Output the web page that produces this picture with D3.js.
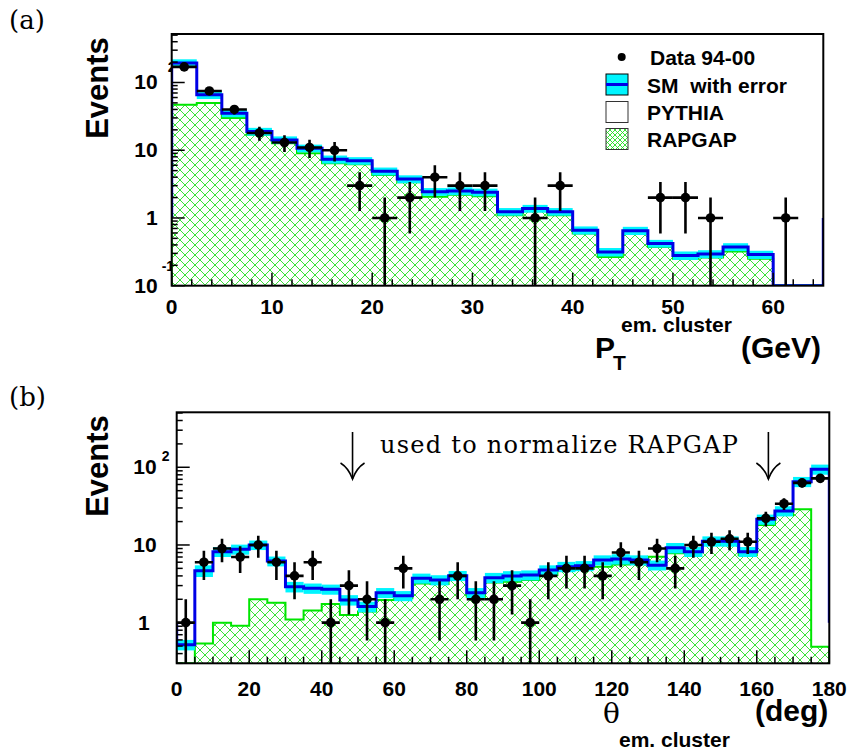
<!DOCTYPE html>
<html><head><meta charset="utf-8">
<script src="https://cdn.jsdelivr.net/npm/d3@7"></script>
<style>body{margin:0;background:#fff}svg{display:block}</style>
</head><body>
<svg id="c" width="851" height="751"></svg>
<script>
// ---------------- DATA: panel (a) P_T ----------------
const ptBinLow = d3.range(0, 65, 2.5);           // 26 bins, 2.5 GeV wide
const ptBinWidth = 2.5;
const ptSM      = [194, 66, 35.3, 18.9, 14.2, 10.7, 7.35, 7.0, 4.9, 3.76, 2.44, 2.5, 2.4, 1.24, 1.38, 1.24, 0.66, 0.315, 0.65, 0.42, 0.28, 0.294, 0.374, 0.288, 0, 0];
const ptSMErr   = [26, 9, 4.6, 2.5, 1.8, 1.4, 1.0, 0.9, 0.65, 0.5, 0.32, 0.33, 0.31, 0.16, 0.18, 0.16, 0.09, 0.045, 0.09, 0.055, 0.04, 0.04, 0.05, 0.04, 0, 0];
const ptRapgap  = [46.9, 49.7, 29.8, 16.9, 12.7, 9.0, 6.4, 6.2, 4.3, 3.36, 2.06, 2.2, 2.1, 1.1, 1.26, 1.1, 0.59, 0.266, 0.59, 0.374, 0.25, 0.26, 0.32, 0.25, 0, 0];
const ptData    = [170, 75, 40, 18, 13, 11, 10, 3, 1, 2, 4, 3, 3, null, 1, 3, null, null, null, 2, 2, 1, null, null, 1, null];
const ptDataErr = [13, 8.7, 6.3, 4.2, 3.6, 3.3, 3.2, 1.73, 1, 1.41, 2, 1.73, 1.73, null, 1, 1.73, null, null, null, 1.41, 1.41, 1, null, null, 1, null];
const ptXTickLabels = ["0", "10", "20", "30", "40", "50", "60"];
const ptYTickVals = [0.1, 1, 10, 100];
const ptYTickBase = ["10", "1", "10", "10"];
const ptYTickSup  = ["-1", "", "", "2"];

// ---------------- DATA: panel (b) theta ----------------
const thBinLow = d3.range(0, 180, 5);            // 36 bins, 5 deg wide
const thBinWidth = 5;
const thSM      = [0.52, 4.67, 8.2, 8.8, 10, 6.2, 2.9, 2.77, 2.69, 1.96, 1.61, 2.43, 2.22, 3.73, 3.55, 4.03, 2.43, 3.8, 4.0, 4.1, 4.77, 5.26, 5.4, 6.4, 6.6, 6.4, 5.5, 9.2, 8.2, 11.2, 11.2, 8.2, 21.4, 27.4, 65.3, 94.2];
const thSMErr   = [0.08, 0.8, 1.2, 1.3, 1.4, 0.9, 0.45, 0.42, 0.4, 0.3, 0.25, 0.36, 0.33, 0.55, 0.53, 0.6, 0.36, 0.57, 0.6, 0.6, 0.7, 0.8, 0.8, 0.95, 1.0, 0.95, 0.8, 1.4, 1.2, 1.7, 1.7, 1.2, 3.2, 4.1, 9.8, 14];
const thRapgap  = [0, 0.54, 1.0, 0.91, 2.0, 1.81, 1.1, 1.43, 1.74, 1.26, 1.39, 1.96, 2.06, 3.2, 3.15, 3.55, 2.16, 3.3, 3.37, 3.55, 4.1, 4.77, 4.9, 5.26, 5.6, 5.8, 7.07, 7.8, 8.2, 10, 10.2, 7.4, 18.1, 24.3, 28.8, 0.49];
const thData    = [1, 6, 9, 7, 10, 6, 4, 6, 1, 3, 2, 1, 5, null, 2, 4, 2, 2, 3, 1, 4, 5, 5, 4, 8, 6, 9, 5, 10, 11, 12, 11, 22, 34, 63, 72];
const thDataErr = [1, 2.45, 3, 2.65, 3.16, 2.45, 2, 2.45, 1, 1.73, 1.41, 1, 2.24, null, 1.41, 2, 1.41, 1.41, 1.73, 1, 2, 2.24, 2.24, 2, 2.83, 2.45, 3, 2.24, 3.16, 3.32, 3.46, 3.32, 4.69, 5.83, 7.94, 8.49];
const thXTickLabels = ["0", "20", "40", "60", "80", "100", "120", "140", "160", "180"];
const thYTickVals = [1, 10, 100];
const thYTickBase = ["1", "10", "10"];
const thYTickSup  = ["", "", "2"];
const normArrowsDeg = [48.5, 163.2];
const normText = "used to normalize RAPGAP";

const legendLabels = ["Data 94-00", "SM  with error", "PYTHIA", "RAPGAP"];

// ---------------- STYLE ----------------
const SANS = "'Liberation Sans', Arial, Helvetica, sans-serif";
const SERIF = "'DejaVu Serif', 'Liberation Serif', serif";
const BLUE = "#0000e6", CYAN = "#00f5ff", GREEN = "#00e600";

const svg = d3.select("#c");
const defs = svg.append("defs");
function hatch(id, s, sw) {
  const p = defs.append("pattern").attr("id", id).attr("patternUnits", "userSpaceOnUse")
    .attr("width", s).attr("height", s);
  p.append("rect").attr("width", s).attr("height", s).attr("fill", "#fff");
  p.append("path").attr("d", `M0,0L${s},${s}M${s},0L0,${s}M${-1},${s-1}L1,${s+1}M${s-1},-1L${s+1},1`)
    .attr("stroke", "#22e022").attr("stroke-width", sw).attr("fill", "none");
}
hatch("hatch", 10, 0.9);
hatch("hatchSmall", 5, 0.9);

function stepPoints(low, w, vals, base) {
  const pts = [[low[0], base]];
  vals.forEach((v, i) => { pts.push([low[i], v]); pts.push([low[i] + w, v]); });
  pts.push([low[low.length - 1] + w, base]);
  return pts;
}

function panel(o) {
  const g = svg.append("g");
  const x = d3.scaleLinear().domain(o.xDomain).range([o.x0, o.x1]);
  const y = d3.scaleLog().domain(o.yDomain).range([o.y1, o.y0]);
  const ymin = o.yDomain[0];
  const yc = v => (v == null || v <= ymin) ? o.y1 : y(v);
  const clipId = "clip" + o.id;
  defs.append("clipPath").attr("id", clipId).append("rect")
    .attr("x", o.x0).attr("y", o.y0).attr("width", o.x1 - o.x0).attr("height", o.y1 - o.y0);
  const line = d3.line().x(d => x(d[0])).y(d => yc(d[1]));

  // y labels (drawn first so the plot area covers the overflow)
  o.yTickVals.forEach((v, i) => {
    g.append("text").attr("x", o.x0 - (o.yLabelOff[o.yTickBase[i]] || o.yLabelOff.def))
      .attr("y", y(v) + 7).attr("text-anchor", "end")
      .attr("font-family", SANS).attr("font-weight", "bold").attr("font-size", 21)
      .text(o.yTickBase[i]);
    if (o.yTickSup[i]) {
      const s = o.sup[o.yTickSup[i]];
      g.append("text").attr("x", o.x0 + s.dx).attr("y", y(v) + s.dy)
        .attr("font-family", SANS).attr("font-weight", "bold").attr("font-size", 14)
        .text(o.yTickSup[i]);
    }
  });
  g.append("rect").attr("x", o.x0).attr("y", o.y0).attr("width", o.x1 - o.x0).attr("height", o.y1 - o.y0)
    .attr("fill", "#fff");
  const pg = g.append("g").attr("clip-path", `url(#${clipId})`);

  // RAPGAP hatched
  const rp = stepPoints(o.low, o.w, o.rapgap, ymin);
  pg.append("path").attr("d", line(rp) + "Z").attr("fill", "url(#hatch)").attr("stroke", "none");
  pg.append("path").attr("d", line(rp)).attr("fill", "none").attr("stroke", GREEN).attr("stroke-width", 2);

  // SM error band
  pg.selectAll(".band").data(o.sm).enter().append("rect")
    .attr("x", (d, i) => x(o.low[i])).attr("width", (d, i) => x(o.low[i] + o.w) - x(o.low[i]))
    .attr("y", (d, i) => d > 0 ? yc(d + o.smErr[i]) : o.y1 - 1.5)
    .attr("height", (d, i) => d > 0 ? yc(d - o.smErr[i]) - yc(d + o.smErr[i]) : 1.5)
    .attr("fill", CYAN);
  // SM line
  const sp = stepPoints(o.low, o.w, o.sm, 1);
  pg.append("path").attr("d", line(sp)).attr("fill", "none").attr("stroke", BLUE).attr("stroke-width", 3);

  // data
  const dg = pg.append("g").attr("stroke", "#000").attr("stroke-width", 2.6);
  o.data.forEach((n, i) => {
    if (n == null) return;
    const e = o.dataErr[i];
    const cx = x(o.low[i] + o.w / 2);
    dg.append("line").attr("x1", cx).attr("x2", cx).attr("y1", yc(n - e)).attr("y2", yc(n + e));
    dg.append("line").attr("x1", x(o.low[i])).attr("x2", x(o.low[i] + o.w)).attr("y1", y(n)).attr("y2", y(n));
    dg.append("circle").attr("cx", cx).attr("cy", y(n)).attr("r", 4.8).attr("fill", "#000").attr("stroke", "none");
  });

  // ticks
  const tk = g.append("g").attr("stroke", "#000").attr("stroke-width", 1.5);
  d3.range(o.xDomain[0], o.xDomain[1] + 1e-9, o.xMinor).forEach(v => {
    const major = Math.abs(v / o.xMajor - Math.round(v / o.xMajor)) < 1e-6;
    tk.append("line").attr("x1", x(v)).attr("x2", x(v)).attr("y1", o.y1).attr("y2", o.y1 - (major ? 13 : 6.5));
  });
  y.ticks().forEach(v => {
    const lg = Math.log10(v);
    const major = Math.abs(lg - Math.round(lg)) < 1e-6;
    tk.append("line").attr("x1", o.x0).attr("x2", o.x0 + (major ? 13 : 6)).attr("y1", y(v)).attr("y2", y(v));
  });
  // frame
  g.append("rect").attr("x", o.x0).attr("y", o.y0).attr("width", o.x1 - o.x0).attr("height", o.y1 - o.y0)
    .attr("fill", "none").attr("stroke", "#000").attr("stroke-width", 2);

  // x labels
  o.xTickLabels.forEach(t => {
    g.append("text").attr("x", x(+t)).attr("y", o.y1 + o.xLabelDy).attr("text-anchor", "middle")
      .attr("font-family", SANS).attr("font-weight", "bold").attr("font-size", 21).text(t);
  });
  // y title
  g.append("text").attr("transform", `translate(${o.yTitleX},${o.yTitleY}) rotate(-90)`)
    .attr("text-anchor", "middle").attr("font-family", SANS).attr("font-weight", "bold")
    .attr("font-size", 31).text("Events");
  return { x, y, g };
}

// ---------------- PANEL (a) ----------------
const A = panel({
  id: "a", x0: 171.7, x1: 823.3, y0: 34, y1: 285.7,
  xDomain: [0, 65], yDomain: [0.1, 520], xMinor: 2, xMajor: 10,
  low: ptBinLow, w: ptBinWidth, sm: ptSM, smErr: ptSMErr, rapgap: ptRapgap,
  data: ptData, dataErr: ptDataErr, xTickLabels: ptXTickLabels,
  yTickVals: ptYTickVals, yTickBase: ptYTickBase, yTickSup: ptYTickSup,
  yLabelOff: { def: 14 }, sup: { "2": { dx: -4, dy: -10 }, "-1": { dx: -10, dy: -15 } },
  xLabelDy: 28, yTitleX: 108, yTitleY: 88
});
// legend
(function () {
  const lg = A.g.append("g");
  const bx = 606, bw = 22, bh = 21, rows = [57, 84.5, 112, 139];
  lg.append("circle").attr("cx", 621.7).attr("cy", rows[0]).attr("r", 4).attr("fill", "#000");
  lg.append("rect").attr("x", bx).attr("y", rows[1] - bh / 2).attr("width", bw).attr("height", bh)
    .attr("fill", CYAN).attr("stroke", "#000").attr("stroke-width", 1);
  lg.append("line").attr("x1", bx).attr("x2", bx + bw).attr("y1", rows[1]).attr("y2", rows[1])
    .attr("stroke", BLUE).attr("stroke-width", 3);
  lg.append("rect").attr("x", bx).attr("y", rows[2] - bh / 2).attr("width", bw).attr("height", bh)
    .attr("fill", "#fff").attr("stroke", "#333").attr("stroke-width", 1);
  lg.append("rect").attr("x", bx).attr("y", rows[3] - bh / 2).attr("width", bw).attr("height", bh)
    .attr("fill", "url(#hatchSmall)").attr("stroke", "#333").attr("stroke-width", 1);
  const tx = [650, 647, 647, 647];
  legendLabels.forEach((t, i) => {
    lg.append("text").attr("x", tx[i]).attr("y", rows[i] + 8).attr("font-family", SANS)
      .attr("font-weight", "bold").attr("font-size", 21).attr("xml:space", "preserve")
      .style("white-space", "pre").text(t);
  });
})();
// x title (a)
(function () {
  const t = svg.append("text").attr("font-family", SANS).attr("font-weight", "bold").attr("y", 358);
  t.append("tspan").attr("x", 595).attr("font-size", 30).text("P");
  t.append("tspan").attr("x", 613).attr("y", 370).attr("font-size", 21).text("T");
  t.append("tspan").attr("x", 621).attr("y", 332).attr("font-size", 21).text("em. cluster");
  t.append("tspan").attr("x", 741).attr("y", 358).attr("font-size", 30).text("(GeV)");
})();

// ---------------- PANEL (b) ----------------
const B = panel({
  id: "b", x0: 176.7, x1: 829.3, y0: 412.3, y1: 663.3,
  xDomain: [0, 180], yDomain: [0.3, 510], xMinor: 5, xMajor: 20,
  low: thBinLow, w: thBinWidth, sm: thSM, smErr: thSMErr, rapgap: thRapgap,
  data: thData, dataErr: thDataErr, xTickLabels: thXTickLabels,
  yTickVals: thYTickVals, yTickBase: thYTickBase, yTickSup: thYTickSup,
  yLabelOff: { def: 20, "1": 27 }, sup: { "2": { dx: -15, dy: -6 } },
  xLabelDy: 33, yTitleX: 108, yTitleY: 466
});
// arrows + note
normArrowsDeg.forEach(d => {
  const ax = B.x(d);
  const a = svg.append("g").attr("stroke", "#000").attr("fill", "none").attr("stroke-width", 1.6);
  a.append("line").attr("x1", ax).attr("x2", ax).attr("y1", 432).attr("y2", 479);
  a.append("path").attr("d", `M${ax - 12},${463} Q${ax - 4},${468} ${ax},${479} Q${ax + 4},${468} ${ax + 12},${463}`);
});
svg.append("text").attr("x", 380).attr("y", 453).attr("font-family", SERIF).attr("font-size", 24)
  .attr("textLength", 358).attr("lengthAdjust", "spacing").text(normText);
// x title (b)
(function () {
  svg.append("text").attr("x", 603).attr("y", 723).attr("font-family", SERIF).attr("font-size", 28).text("θ");
  svg.append("text").attr("x", 619).attr("y", 747).attr("font-family", SANS).attr("font-weight", "bold")
    .attr("font-size", 21).text("em. cluster");
  svg.append("text").attr("x", 755).attr("y", 721).attr("font-family", SANS).attr("font-weight", "bold")
    .attr("font-size", 30).text("(deg)");
})();

// panel letters
svg.append("text").attr("x", 9).attr("y", 29).attr("font-family", SERIF).attr("font-size", 26).text("(a)");
svg.append("text").attr("x", 9).attr("y", 406).attr("font-family", SERIF).attr("font-size", 26).text("(b)");
</script>
</body></html>
